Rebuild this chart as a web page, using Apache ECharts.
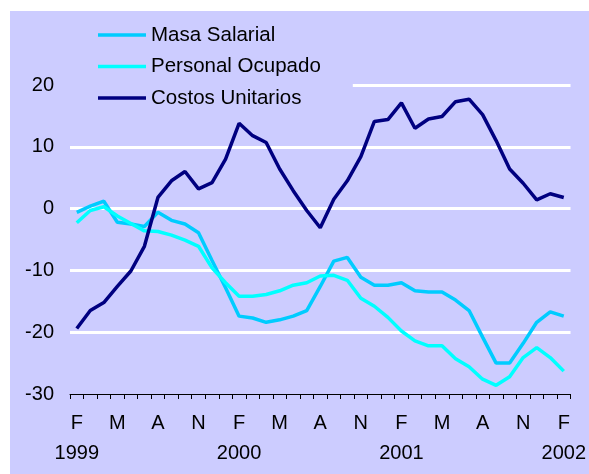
<!DOCTYPE html>
<html>
<head>
<meta charset="utf-8">
<script src="https://cdn.jsdelivr.net/npm/echarts@6/dist/echarts.min.js"></script>
<style>
  html, body { margin: 0; padding: 0; background: #ffffff; }
  #chart { position: absolute; left: 10px; top: 11px; width: 579px; height: 463px; }
</style>
</head>
<body>
<div id="chart"></div>
<script>
// Monthly categories, Feb 1999 .. Feb 2002
const categories = [
  '1999-02','1999-03','1999-04','1999-05','1999-06','1999-07','1999-08','1999-09','1999-10','1999-11','1999-12',
  '2000-01','2000-02','2000-03','2000-04','2000-05','2000-06','2000-07','2000-08','2000-09','2000-10','2000-11','2000-12',
  '2001-01','2001-02','2001-03','2001-04','2001-05','2001-06','2001-07','2001-08','2001-09','2001-10','2001-11','2001-12',
  '2002-01','2002-02'
];
const monthTickLabels = { '02': 'F', '05': 'M', '08': 'A', '11': 'N' };
const yearLabelMonth = '02';

const seriesNames = ['Masa Salarial', 'Personal Ocupado', 'Costos Unitarios'];

const masaSalarial = [-0.6, 0.4, 1.2, -2.2, -2.5, -2.9, -0.6, -1.9, -2.5, -3.9,
  -8.4, -12.8, -17.4, -17.7, -18.4, -18.0, -17.4, -16.5, -12.6, -8.5,
  -7.9, -11.1, -12.4, -12.4, -12.0, -13.3, -13.5, -13.5, -14.8, -16.5,
  -20.8, -25.0, -25.0, -21.8, -18.4, -16.7, -17.4];

const personalOcupado = [-2.3, -0.3, 0.3, -1.2, -2.4, -3.6, -3.7, -4.3, -5.1, -6.1,
  -9.6, -12.0, -14.2, -14.2, -13.9, -13.3, -12.4, -12.0, -10.9, -10.8,
  -11.6, -14.5, -15.8, -17.6, -19.8, -21.4, -22.2, -22.2, -24.3, -25.6,
  -27.6, -28.6, -27.2, -24.1, -22.5, -24.1, -26.3];

const costosUnitarios = [-19.4, -16.5, -15.2, -12.6, -10.1, -6.1, 1.8, 4.5, 6.0, 3.2,
  4.2, 8.0, 13.8, 11.8, 10.7, 6.4, 2.9, -0.3, -3.1, 1.5,
  4.5, 8.4, 14.1, 14.4, 17.1, 13.0, 14.5, 14.9, 17.3, 17.7,
  15.2, 11.0, 6.4, 4.1, 1.4, 2.4, 1.8];

const yMin = -30, yMax = 20, yStep = 10;

const colors = ['#00ccff', '#00ffff', '#000080'];
const font = 'Liberation Sans, Arial, sans-serif';

const chart = echarts.init(document.getElementById('chart'), null, { renderer: 'canvas' });

const dataSets = [masaSalarial, personalOcupado, costosUnitarios];

chart.setOption({
  backgroundColor: '#ccccff',
  animation: false,
  textStyle: { fontFamily: font, color: '#000' },
  grid: { left: 60, right: 18, top: 74, bottom: 80 },
  legend: {
    orient: 'vertical',
    left: 60,
    top: 5,
    padding: [8, 32, 6, 28],
    backgroundColor: '#ccccff',
    itemWidth: 48,
    itemHeight: 3.5,
    itemGap: 9.5,
    icon: 'rect',
    data: seriesNames,
    textStyle: { fontFamily: font, fontSize: 20.5, color: '#000', lineHeight: 22 }
  },
  xAxis: {
    type: 'category',
    data: categories,
    boundaryGap: true,
    axisLine: { onZero: false, lineStyle: { color: '#000', width: 1 } },
    axisTick: { show: true, interval: 0, length: 5, lineStyle: { color: '#000', width: 1 } },
    axisLabel: {
      interval: 2,
      margin: 14,
      fontFamily: font,
      fontSize: 20,
      color: '#000',
      lineHeight: 30,
      formatter: function (v) {
        const parts = v.split('-');
        let s = monthTickLabels[parts[1]] || '';
        if (parts[1] === yearLabelMonth) s += '\n' + parts[0];
        return s;
      }
    },
    splitLine: { show: false }
  },
  yAxis: {
    type: 'value',
    min: yMin,
    max: yMax,
    interval: yStep,
    axisLine: { show: false },
    axisTick: { show: false },
    axisLabel: { fontFamily: font, fontSize: 20, color: '#000', margin: 16 },
    splitLine: {
      show: true,
      lineStyle: { color: ['rgba(0,0,0,0)', '#ffffff', '#ffffff', '#ffffff', '#ffffff', '#ffffff'], width: 3 }
    }
  },
  series: seriesNames.map(function (name, k) {
    return {
      name: name,
      type: 'line',
      data: dataSets[k],
      showSymbol: false,
      symbol: 'none',
      color: colors[k],
      lineStyle: { color: colors[k], width: 3.5 }
    };
  })
});
</script>
</body>
</html>
